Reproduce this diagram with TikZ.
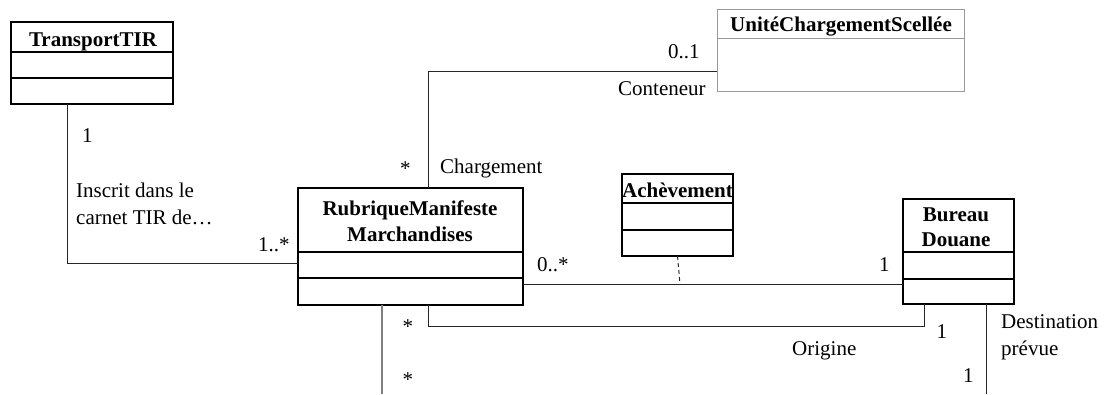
\documentclass[tikz,border=0pt]{standalone}
\usepackage{fontspec}
\setmainfont{Liberation Serif}
\begin{document}
\begin{tikzpicture}[x=1pt,y=-1pt,
  classbox/.style={draw=black, line width=1.3pt, rectangle, anchor=north west, inner sep=0pt, outer sep=0pt},
  boldbox/.style={classbox, line width=2.5pt},
  greybox/.style={classbox, draw=black!40, line width=1pt},
  divider/.style={draw=black, line width=1.2pt},
  thickdivider/.style={draw=black, line width=2.2pt},
  greydivider/.style={draw=black!40, line width=1pt},
  assoc/.style={draw=black!85, line width=1pt},
  stub/.style={draw=black!50, line width=1.3pt},
  link/.style={draw=black!85, line width=1pt, dashed, dash pattern=on 4pt off 3pt},
  title/.style={font=\fontsize{21}{26.5}\selectfont\bfseries, inner sep=0pt, anchor=base},
  lbl/.style={font=\fontsize{21}{26.5}\selectfont, inner sep=0pt, anchor=base west, align=left}]
\useasboundingbox (0,0) rectangle (1108,394);

% classes
\node[classbox, minimum width=162pt, minimum height=82pt] (tir) at (11,22) {};
\draw[divider] (tir.west |- 0,52) -- (tir.east |- 0,52);
\draw[divider] (tir.west |- 0,78) -- (tir.east |- 0,78);
\node[title] (tirname) at (93,46) {TransportTIR};

\node[greybox, minimum width=247pt, minimum height=82pt] (ucs) at (717,9) {};
\draw[greydivider] (ucs.west |- 0,38) -- (ucs.east |- 0,38);
\node[title] (ucsname) at (841,31) {UnitéChargementScellée};

\node[boldbox, minimum width=225pt, minimum height=117pt] (rub) at (298,188) {};
\draw[thickdivider] (rub.west |- 0,252) -- (rub.east |- 0,252);
\draw[thickdivider] (rub.west |- 0,278) -- (rub.east |- 0,278);
\node[title] (rubname) at (410,215) {RubriqueManifeste};
\node[title] (rubname2) at (410,241.5) {Marchandises};

\node[classbox, minimum width=111pt, minimum height=82pt] (ach) at (622,174) {};
\draw[divider] (ach.west |- 0,203) -- (ach.east |- 0,203);
\draw[divider] (ach.west |- 0,230) -- (ach.east |- 0,230);
\node[title] (achname) at (677.5,197) {Achèvement};

\node[classbox, minimum width=111pt, minimum height=105pt] (bd) at (903,199) {};
\draw[divider] (bd.west |- 0,252) -- (bd.east |- 0,252);
\draw[divider] (bd.west |- 0,279) -- (bd.east |- 0,279);
\node[title] (bdname) at (956,221.5) {Bureau};
\node[title] (bdname2) at (956,246) {Douane};

% associations
\draw[assoc] (tir.south -| 67,0) |- (rub.west |- 0,263);
\draw[assoc] (rub.north -| 428,0) |- (ucs.west |- 0,71);
\draw[assoc] (rub.east |- 0,284) -- (bd.west |- 0,284);
\coordinate (achfoot) at (680,284);
\draw[link] (ach.south) -- (achfoot);
\draw[assoc] (rub.south -| 428,0) -- ++(0,21) -| (bd.south -| 924,0);
\coordinate (rubend) at (382,394);
\coordinate (bdend) at (986.5,394);
\draw[stub] (rub.south -| rubend) -- (rubend);
\draw[assoc] (bd.south -| bdend) -- (bdend);

% role names and multiplicities
\node[lbl] (m1) at (82,142) {1};
\node[lbl] (inscrit) at (76,224) {Inscrit dans le\\carnet TIR de\ldots};
\node[lbl] (m2) at (258,251) {1..*};
\node[lbl] (m3) at (668,58) {0..1};
\node[lbl] (conteneur) at (618,95) {Conteneur};
\node[lbl] (m4) at (400,175) {*};
\node[lbl] (chargement) at (440,173) {Chargement};
\node[lbl] (m5) at (537,271) {0..*};
\node[lbl] (m6) at (879,271) {1};
\node[lbl] (m7) at (402.5,333) {*};
\node[lbl] (m8) at (402.5,386) {*};
\node[lbl] (m9) at (936.5,338) {1};
\node[lbl] (origine) at (792,355) {Origine};
\node[lbl] (m10) at (963,382) {1};
\node[lbl] (destination) at (1001,355) {Destination\\prévue};
\end{tikzpicture}
\end{document}
